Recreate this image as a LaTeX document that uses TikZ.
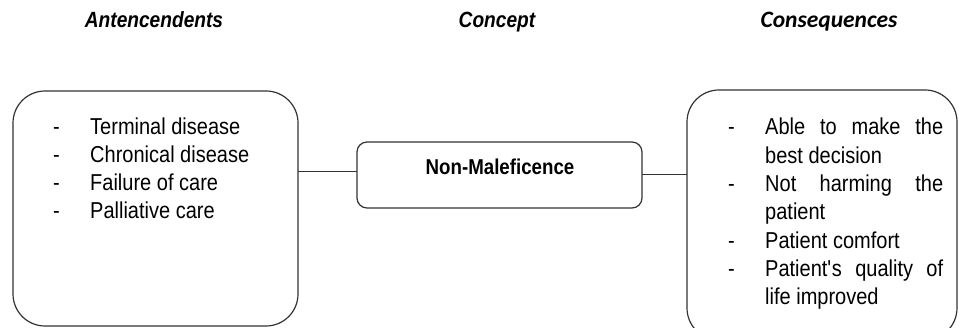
\documentclass[tikz,border=0pt]{standalone}
\usepackage{fontspec}
\setmainfont{Liberation Sans}[FakeStretch=0.87]
\newfontfamily\calfont{Carlito}
\usepackage{array}
\tikzset{
  box/.style={draw=black!80, line width=1.2pt, inner sep=0pt, outer sep=0pt},
  conn/.style={draw=black!80, line width=1pt},
  head/.style={inner sep=0pt, anchor=base, font=\fontsize{22}{26}\selectfont\bfseries\itshape},
}
\begin{document}
\begin{tikzpicture}[x=1pt,y=-1pt]
\useasboundingbox (0,0) rectangle (959,328);
\begin{scope}
\clip (0,0) rectangle (959,328);
% headers
\node[head] (h1) at (154,28) {Antencendents};
\node[head] (h2) at (497,28) {Concept};
\node[inner sep=0pt, anchor=base, font=\calfont\fontsize{23.5}{27}\selectfont\bfseries\itshape] (h3) at (829,28) {Consequences};
% boxes
\node[box, rounded corners=32pt, minimum width=285pt, minimum height=235pt, anchor=north west] (lbox) at (13,91) {};
\node[box, rounded corners=10pt, minimum width=285pt, minimum height=66pt, anchor=north west] (cbox) at (357,142) {};
\node[box, rounded corners=32pt, minimum width=270pt, minimum height=250pt, anchor=north west] (rbox) at (687,90) {};
% texts
\node[inner sep=0pt, anchor=base west, font=\fontsize{23}{28}\selectfont] (ltext) at (53,135)
 {\begin{tabular}[t]{@{}p{37pt}@{}l@{}}
 - & Terminal disease\\
 - & Chronical disease\\
 - & Failure of care\\
 - & Palliative care
 \end{tabular}};
\node[inner sep=0pt, font=\fontsize{21.5}{26}\selectfont\bfseries] (ctext) at (500,167) {Non-Maleficence};
\node[inner sep=0pt, anchor=base west, font=\fontsize{23}{28.3}\selectfont] (rtext) at (728,135)
 {\begin{tabular}[t]{@{}p{37pt}@{}p{178pt}@{}}
 - & Able to make the\linebreak best decision\\
 - & Not harming the\linebreak patient\\
 - & Patient comfort\\
 - & Patient\textquotesingle s quality of\linebreak life improved
 \end{tabular}};
% connectors
\draw[conn] (lbox.east |- 0,172) -- (cbox.west |- 0,172);
\draw[conn] (cbox.east) -- (rbox.west |- cbox.east);
\end{scope}
\end{tikzpicture}
\end{document}
